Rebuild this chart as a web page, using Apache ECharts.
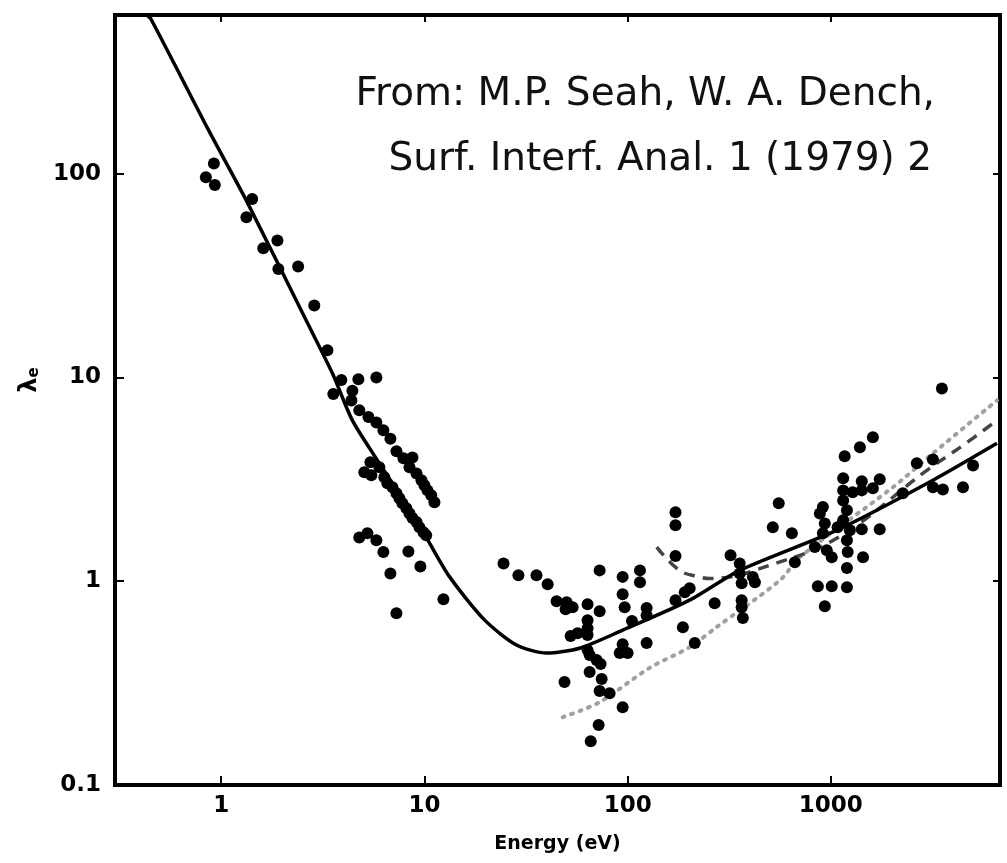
<!DOCTYPE html>
<html>
<head>
<meta charset="utf-8">
<script src="https://cdn.jsdelivr.net/npm/echarts@6/dist/echarts.min.js"></script>
<style>html,body{margin:0;padding:0;background:#fff;}#c{width:1007px;height:863px;}</style>
</head>
<body>
<div id="c"></div>
<script>
// Universal curve (solid): [energy eV, lambda]
const solidCurve = [[0.43,600],[0.45,575],[0.87,162],[1.33,73.7],[2.62,19.0],[3.52,10.5],[4.42,6.15],[6.0,3.79],[7.88,2.49],[10.2,1.64],[13.3,1.05],[19.8,0.644],[28.4,0.486],[39.9,0.444],[58,0.469],[94.5,0.575],[202,0.807],[356,1.13],[1071,1.78],[3180,3.13],[6570,4.75]];
// Dotted grey line
const dottedCurve = [[47.9,0.215],[72.8,0.255],[128,0.375],[202,0.475],[274,0.595],[561,1.01],[703,1.31],[2020,2.89],[3180,4.24],[6570,7.71]];
// Dashed line
const dashedCurve = [[139,1.47],[180,1.13],[226,1.05],[254,1.03],[530,1.22],[1107,1.66],[2970,3.5],[4470,4.64],[6570,6.15]];
// Measured points, low energies
const pointsLow = [[0.92,112],[0.84,96],[0.93,88],[1.42,75],[1.33,61],[1.61,43],[1.89,47],[2.39,35],[1.91,34],[2.87,22.5],
[3.33,13.6],[3.90,9.7],[4.73,9.8],[5.80,10.0],[3.56,8.3],[4.42,8.6],[4.37,7.7],[4.78,6.9],[5.30,6.4],[5.80,6.0],[6.28,5.5],[6.80,5.0],[7.28,4.34],[8.73,4.05],[7.88,4.01],[8.44,3.62],[9.14,3.38],[9.67,3.13],[10.0,2.96],[10.35,2.79],[10.8,2.64],[11.2,2.44],
[5.42,3.83],[5.06,3.42],[5.48,3.31],[6.00,3.62],[6.35,3.24],[6.57,3.02],[6.96,2.89],[7.28,2.70],[7.53,2.55],[7.79,2.41],[8.15,2.28],[8.44,2.15],[8.73,2.04],[9.14,1.95],[9.45,1.84],[9.89,1.74],[10.2,1.68],
[4.78,1.64],[5.24,1.72],[5.80,1.59],[6.28,1.39],[8.34,1.40],[9.55,1.18],[6.80,1.09],[12.4,0.816],[7.28,0.697]];
// Measured points, middle energies
const pointsMid = [[24.5,1.22],[29.0,1.07],[35.6,1.07],[40.4,0.967],[44.7,0.798],[50.1,0.789],[49.5,0.729],[53.6,0.746],[63.5,0.771],[72.8,1.13],[94.5,1.05],[94.5,0.863],[96.7,0.746],[72.8,0.713],[63.5,0.644],[63.5,0.588],[63.5,0.544],[52.4,0.538],[56.7,0.556],[105,0.637],[94.5,0.491],[91.4,0.444],[100,0.444],[63.5,0.459],[65.0,0.434],[70.3,0.410],[73.6,0.392],[65.0,0.358],[48.9,0.320],[74.5,0.331],[72.8,0.289],[81.5,0.282],[94.5,0.241],[72.0,0.197],[65.8,0.164],
[172,2.18],[172,1.88],[554,2.41],[518,1.84],[643,1.72],[172,1.33],[321,1.34],[356,1.22],[115,1.13],[115,0.989],[356,1.09],[413,1.05],[423,0.989],[364,0.978],[202,0.924],[191,0.883],[172,0.807],[268,0.780],[364,0.807],[364,0.746],[369,0.659],[124,0.738],[124,0.681],[187,0.595],[124,0.497],[214,0.497],[665,1.24]];
// Measured points, high energies
const pointsHigh = [[3520,8.83],[1610,5.08],[1390,4.54],[1170,4.10],[1150,3.20],[1420,3.09],[1740,3.16],[2650,3.79],[3180,3.96],[5010,3.70],[3180,2.89],[3560,2.82],[4470,2.89],[1150,2.79],[1280,2.73],[1420,2.79],[1610,2.86],[2260,2.70],[914,2.31],[883,2.15],[1150,2.49],[1200,2.23],[1150,1.99],[1080,1.84],[934,1.92],[914,1.72],[1240,1.78],[1420,1.80],[1740,1.80],[834,1.47],[955,1.42],[1010,1.31],[1200,1.59],[1210,1.39],[1440,1.31],[1200,1.16],[1200,0.934],[863,0.945],[1010,0.945],[934,0.754]];

const xRange = [0.3, 6800];
const yRange = [0.1, 600];
const xTitle = 'Energy (eV)';
const yTitle = '{l|λ}{s|e}';
const noteLines = ['From: M.P. Seah, W. A. Dench,', 'Surf. Interf. Anal. 1 (1979) 2'];

const labelFmt = v => String(Number(Number(v).toPrecision(3)));
const labelStyle = {color:'#000', fontFamily:'DejaVu Sans', fontWeight:'bold', fontSize:23};
const lineBlack = {color:'#000', width:4};

const chart = echarts.init(document.getElementById('c'), null, {renderer:'canvas'});
chart.setOption({
  animation:false,
  backgroundColor:'#fff',
  grid:{left:115, right:7, top:15, bottom:78, show:true, borderColor:'#000', borderWidth:4, containLabel:false},
  xAxis:[{
    type:'log', min:xRange[0], max:xRange[1], position:'bottom',
    axisLine:{show:true, lineStyle:lineBlack},
    axisTick:{show:true, inside:true, length:9, lineStyle:{color:'#000', width:2}},
    axisLabel:Object.assign({formatter:labelFmt, showMinLabel:false, showMaxLabel:false, margin:10}, labelStyle),
    splitLine:{show:false},
    name:xTitle, nameLocation:'middle', nameGap:50,
    nameTextStyle:{color:'#000', fontFamily:'DejaVu Sans', fontWeight:'bold', fontSize:19}
  },{
    type:'log', min:xRange[0], max:xRange[1], position:'top',
    axisLine:{show:true, lineStyle:lineBlack},
    axisTick:{show:true, inside:true, length:7, lineStyle:{color:'#000', width:2}},
    axisLabel:{show:false}, splitLine:{show:false}
  }],
  yAxis:[{
    type:'log', min:yRange[0], max:yRange[1], position:'left',
    axisLine:{show:true, lineStyle:lineBlack},
    axisTick:{show:true, inside:true, length:9, lineStyle:{color:'#000', width:2}},
    axisLabel:Object.assign({formatter:labelFmt, showMinLabel:true, showMaxLabel:false, margin:14}, labelStyle),
    splitLine:{show:false},
    name:yTitle, nameLocation:'middle', nameGap:70, nameRotate:90,
    nameTextStyle:{color:'#000', fontFamily:'DejaVu Sans', fontWeight:'bold', fontSize:22,
      padding:[0,0,0,40],
      rich:{l:{fontSize:24, fontWeight:'bold', fontFamily:'DejaVu Sans', color:'#000'},
            s:{fontSize:15, fontWeight:'bold', fontFamily:'DejaVu Sans', color:'#000', verticalAlign:'bottom', padding:[8,0,0,0]}}}
  },{
    type:'log', min:yRange[0], max:yRange[1], position:'right',
    axisLine:{show:true, lineStyle:lineBlack},
    axisTick:{show:true, inside:true, length:7, lineStyle:{color:'#000', width:2}},
    axisLabel:{show:false}, splitLine:{show:false}
  }],
  series:[
    {type:'line', data:dottedCurve, smooth:0.3, showSymbol:false, lineStyle:{color:'#a0a0a0', width:4, type:[2,7], cap:'round'}, z:2},
    {type:'line', data:dashedCurve, smooth:0.4, showSymbol:false, lineStyle:{color:'#444', width:3.5, type:[11,8]}, z:2},
    {type:'line', data:solidCurve, smooth:0.25, showSymbol:false, lineStyle:{color:'#000', width:3.5}, z:3},
    {type:'scatter', data:pointsLow, symbolSize:12, itemStyle:{color:'#000', opacity:1}, z:4},
    {type:'scatter', data:pointsMid, symbolSize:12, itemStyle:{color:'#000', opacity:1}, z:4},
    {type:'scatter', data:pointsHigh, symbolSize:12, itemStyle:{color:'#000', opacity:1}, z:4}
  ],
  graphic:[
    {type:'text', right:72, top:75, style:{text:noteLines[0], font:'39px "DejaVu Sans"', fill:'#111', textAlign:'right'}},
    {type:'text', right:75, top:140, style:{text:noteLines[1], font:'39px "DejaVu Sans"', fill:'#111', textAlign:'right'}}
  ]
});
</script>
</body>
</html>
